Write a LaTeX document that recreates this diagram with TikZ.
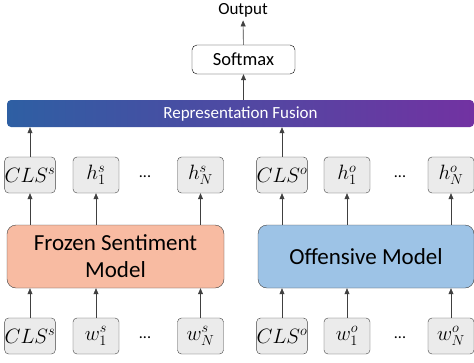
\documentclass[tikz,border=0pt]{standalone}
\usepackage{fontspec}
\setmainfont{Carlito}
\usetikzlibrary{positioning, arrows.meta}
\definecolor{fusionblue}{HTML}{2E5FA3}
\definecolor{fusionpurple}{HTML}{7232A2}
\definecolor{sentfill}{HTML}{F8BBA2}
\definecolor{offfill}{HTML}{9DC3E6}
\definecolor{tokfill}{HTML}{EBEBEB}
\definecolor{linegray}{HTML}{404040}

\begin{document}
\begin{tikzpicture}[
    x=1pt, y=-1pt,
    % Styles
    tokbox/.style={rectangle, draw=linegray, fill=tokfill, rounded corners=4pt, minimum width=46pt, minimum height=36pt, inner sep=0pt, font=\fontsize{20}{20}\selectfont},
    modelbox/.style={rectangle, draw=linegray, rounded corners=9pt, minimum width=217pt, minimum height=63pt, align=center, font=\fontsize{23}{27}\selectfont},
    fusionbar/.style={rectangle, rounded corners=4pt, left color=fusionblue, right color=fusionpurple, minimum width=467pt, minimum height=27pt, inner sep=0pt, text=white, font=\fontsize{17}{17}\selectfont},
    softbox/.style={rectangle, draw=black, fill=white, rounded corners=5pt, minimum width=103pt, minimum height=29pt, font=\fontsize{18.5}{18.5}\selectfont},
    dotsnode/.style={font=\fontsize{16}{16}\selectfont},
    arrow/.style={-{Triangle[length=6pt, width=5pt]}, line width=0.6pt, linegray}
]
\useasboundingbox (0,0) rectangle (474,362);

% ==================== TOP ====================
\node[font=\fontsize{17}{17}\selectfont] (output) at (243, 10) {Output};
\node[softbox] (softmax) at (243.5, 59.5) {Softmax};
\node[fusionbar] (fusion) at (240.5, 113.5) {Representation Fusion};

\draw[arrow] (softmax) -- (output);
\draw[arrow] (fusion.north -| softmax) -- (softmax);

% ==================== SENTIMENT SIDE ====================
\node[tokbox] (clsouts) at (30, 175) {$CLS^s$};
\node[tokbox] (houts1) at (96, 175) {$h_1^s$};
\node[dotsnode] (dotsouts) at (145, 177) {...};
\node[tokbox] (houtsN) at (200.5, 175) {$h_N^s$};

\node[modelbox, fill=sentfill] (sent) at (115.5, 256.5) {Frozen Sentiment\\Model};

\node[tokbox] (clsins) at (30, 336) {$CLS^s$};
\node[tokbox] (wins1) at (96, 336) {$w_1^s$};
\node[dotsnode] (dotsins) at (145, 338) {...};
\node[tokbox] (winsN) at (200.5, 336) {$w_N^s$};

\foreach \t in {clsins, wins1, winsN}
    \draw[arrow] (\t.north) -- (\t.north |- sent.south);
\foreach \t in {clsouts, houts1, houtsN}
    \draw[arrow] (\t.south |- sent.north) -- (\t.south);
\draw[arrow] (clsouts.north) -- (clsouts.north |- fusion.south);

% ==================== OFFENSIVE SIDE ====================
\node[tokbox] (clsouto) at (282, 175) {$CLS^o$};
\node[tokbox] (houto1) at (347, 175) {$h_1^o$};
\node[dotsnode] (dotsouto) at (400, 177) {...};
\node[tokbox] (houtoN) at (451, 175) {$h_N^o$};

\node[modelbox, fill=offfill, minimum width=216pt] (off) at (366, 256.5) {Offensive Model};

\node[tokbox] (clsino) at (282, 336) {$CLS^o$};
\node[tokbox] (wino1) at (347, 336) {$w_1^o$};
\node[dotsnode] (dotsino) at (400, 338) {...};
\node[tokbox] (winoN) at (451, 336) {$w_N^o$};

\foreach \t in {clsino, wino1, winoN}
    \draw[arrow] (\t.north) -- (\t.north |- off.south);
\foreach \t in {clsouto, houto1, houtoN}
    \draw[arrow] (\t.south |- off.north) -- (\t.south);
\draw[arrow] (clsouto.north) -- (clsouto.north |- fusion.south);

\end{tikzpicture}
\end{document}
